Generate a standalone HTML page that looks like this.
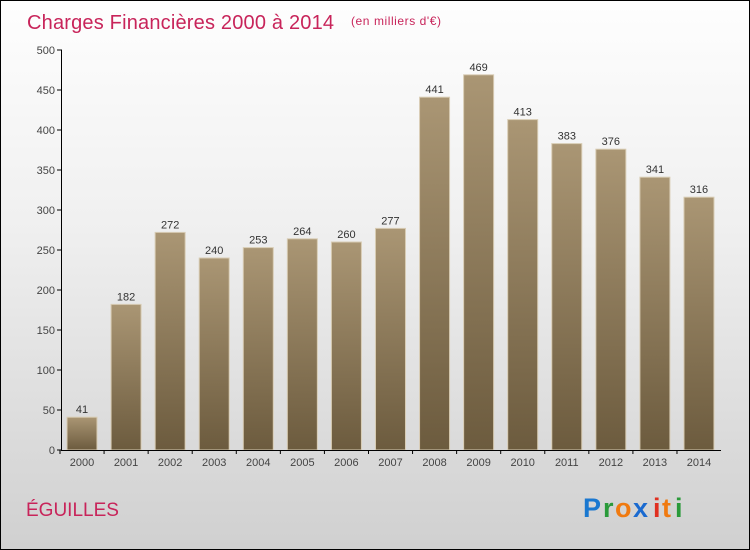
<!DOCTYPE html>
<html><head><meta charset="utf-8"><style>
body{margin:0}
#c{position:relative;width:748px;height:548px;border:1px solid #000;background:linear-gradient(#fefefe,#f0f0f0 40%,#d0d0d0);font-family:"Liberation Sans",sans-serif;overflow:hidden}
</style></head><body>
<div id="c">
<svg id="s" width="748" height="548" style="position:absolute;left:0;top:0">
<defs><linearGradient id="g" x1="0" y1="0" x2="0" y2="1"><stop offset="0" stop-color="#aa9674"/><stop offset="1" stop-color="#6c5b3e"/></linearGradient></defs>
<text x="26" y="28" font-size="20" fill="#c8245a" textLength="307">Charges Financières 2000 à 2014</text>
<text x="350" y="24" font-size="12" fill="#c8245a" textLength="90">(en milliers d'€)</text>
<text x="25" y="515" font-size="19" fill="#c8245a">ÉGUILLES</text>
<g font-size="27" font-weight="bold">
<text x="582" y="516" fill="#1a78d0">P</text><text x="602" y="516" fill="#2a9a3a">r</text><text x="614" y="516" fill="#f07a10">o</text><text x="632" y="516" fill="#1a6ad0">x</text><text x="652" y="516" fill="#e03020">i</text><text x="661" y="516" fill="#f07a10">t</text><text x="674" y="516" fill="#2a9a3a">i</text>
</g>
</svg>
</div>
<script>
const years=["2000","2001","2002","2003","2004","2005","2006","2007","2008","2009","2010","2011","2012","2013","2014"];
const values=[41,182,272,240,253,264,260,277,441,469,413,383,376,341,316];
const yTicks=[0,50,100,150,200,250,300,350,400,450,500];
const s=document.getElementById('s');const NS="http://www.w3.org/2000/svg";
function y(v){return 449-v*0.8;}
function x(i){return 81+i*44.07;}
function mk(t,a,txt){const e=document.createElementNS(NS,t);for(const k in a)e.setAttribute(k,a[k]);if(txt!=null)e.textContent=txt;s.appendChild(e);return e;}
yTicks.forEach(v=>{
 const l=mk('line',{x1:56,x2:61,y1:y(v),y2:y(v),stroke:'#000'});
 
 
 const t=mk('text',{x:54,y:y(v)+4,'text-anchor':'end','font-size':11,fill:'#444'},v);
 
 
});
values.forEach((v,i)=>{
 const r=mk('rect',{x:x(i)-15,y:y(v),width:30,height:v*0.8,fill:'url(#g)',stroke:'#d8ccb4','stroke-width':1});
 
 
 const t=mk('text',{x:x(i),y:y(v)-4,'text-anchor':'middle','font-size':11,fill:'#333'},v);
 
 
 const xl=mk('text',{x:x(i),y:465,'text-anchor':'middle','font-size':11,fill:'#444'},years[i]);
 
 
 const tk=mk('line',{x1:x(i)-22,x2:x(i)-22,y1:449,y2:453,stroke:'#000'});
 
 
});
const ya=mk('line',{x1:60.5,x2:60.5,y1:y(500),y2:449,stroke:'#000'});


const xa=mk('line',{x1:60,x2:720,y1:449.5,y2:449.5,stroke:'#000'});


</script>
</body></html>
